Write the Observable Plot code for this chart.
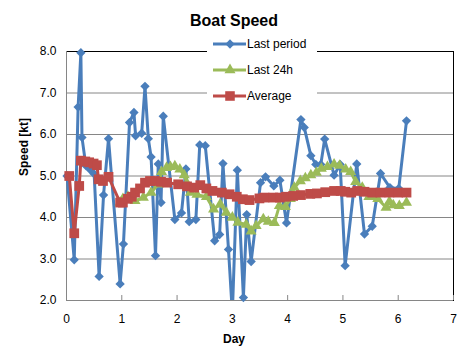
<!DOCTYPE html>
<html>
<head>
<meta charset="utf-8">
<script src="https://cdn.jsdelivr.net/npm/d3@7"></script>
<script src="https://cdn.jsdelivr.net/npm/@observablehq/plot@0.6"></script>
<style>
  html, body { margin: 0; padding: 0; background: #fff; }
  #wrap { position: relative; width: 467px; height: 356px; font-family: "Liberation Sans", Arial, sans-serif; }
  #legend { position: absolute; left: 207px; top: 33px; width: 110px; height: 73px; background: #fff; font-size: 12px; color: #000; }
  #legend .row { position: absolute; left: 0; height: 20px; }
  #legend svg { position: absolute; left: 0; top: 0; }
  #legend span { position: absolute; left: 40px; top: 3px; white-space: nowrap; }
</style>
</head>
<body>
<div id="wrap"></div>
<script>
// ---- data ----
const seriesNames = ["Last period", "Last 24h", "Average"];
const seriesColors = ["#4a7ebb", "#9bbb59", "#be4b48"];

const lastPeriodDay = [0.01,0.14,0.21,0.26,0.28,0.35,0.43,0.50,0.59,0.67,0.76,0.97,1.03,1.14,1.22,1.25,1.36,1.42,1.48,1.53,1.61,1.66,1.71,1.75,1.96,2.08,2.16,2.22,2.34,2.41,2.51,2.68,2.77,2.83,2.93,3.00,3.09,3.20,3.26,3.34,3.51,3.60,3.75,3.86,3.98,4.24,4.30,4.42,4.51,4.60,4.67,4.84,4.95,5.04,5.25,5.39,5.53,5.68,5.85,6.01,6.15];
const lastPeriodSpeed = [5.0,2.98,6.66,7.97,5.93,5.25,5.15,5.05,2.58,4.54,5.9,2.4,3.36,6.29,6.53,5.97,6.03,7.16,5.9,5.46,3.08,5.29,4.36,6.44,3.95,4.11,5.17,3.9,3.95,5.75,5.73,3.44,3.59,5.3,3.23,1.7,5.14,2.07,4.07,2.94,4.84,4.98,4.76,4.9,3.87,6.36,6.17,5.49,5.28,5.28,5.89,5.02,5.28,2.84,5.29,3.6,3.79,5.06,4.72,4.7,6.33];

const last24hDay = [0.97,1.02,1.11,1.24,1.39,1.53,1.66,1.72,1.81,1.88,1.96,2.05,2.13,2.18,2.24,2.36,2.53,2.66,2.78,2.89,3.00,3.10,3.25,3.34,3.43,3.56,3.65,3.76,3.85,3.96,4.05,4.12,4.23,4.32,4.42,4.52,4.61,4.72,4.84,4.94,5.05,5.14,5.23,5.35,5.47,5.63,5.78,5.84,5.91,6.02,6.15];
const last24hSpeed = [4.36,4.45,4.5,4.4,4.48,4.6,4.8,5.1,5.2,5.22,5.24,5.16,5.02,4.82,4.6,4.55,4.5,4.2,4.32,4.12,4.0,3.88,3.83,3.67,3.8,3.96,3.9,3.87,4.28,4.26,4.45,4.72,4.88,4.95,5.02,5.08,5.18,5.22,5.28,5.25,5.16,5.1,4.86,4.72,4.5,4.45,4.24,4.38,4.3,4.28,4.36];

const averageDay = [0.05,0.14,0.23,0.26,0.34,0.41,0.49,0.55,0.58,0.66,0.76,0.97,1.02,1.11,1.18,1.24,1.33,1.42,1.51,1.60,1.71,1.82,2.02,2.18,2.31,2.42,2.53,2.64,2.81,2.95,3.08,3.19,3.31,3.49,3.58,3.74,3.86,3.97,4.10,4.24,4.41,4.53,4.68,4.84,4.96,5.04,5.15,5.26,5.39,5.53,5.68,5.84,6.00,6.15];
const averageSpeed = [5.0,3.62,4.76,5.37,5.35,5.33,5.3,5.26,4.92,4.88,4.98,4.36,4.36,4.45,4.5,4.6,4.7,4.84,4.88,4.88,4.86,4.84,4.8,4.75,4.72,4.78,4.7,4.64,4.6,4.56,4.5,4.44,4.42,4.46,4.48,4.48,4.48,4.5,4.52,4.54,4.57,4.58,4.61,4.64,4.64,4.62,4.6,4.64,4.62,4.6,4.6,4.6,4.6,4.6];

const xTicks = [0,1,2,3,4,5,6,7];
const yTicks = [2,3,4,5,6,7,8];
const gridY = [3,4,5,6,7];
const titleText = "Boat Speed";
const xTitle = "Day";
const yTitle = "Speed [kt]";

// ---- build tables ----
const lp = lastPeriodDay.map((d, i) => ({day: d, speed: lastPeriodSpeed[i]}));
const h24 = last24hDay.map((d, i) => ({day: d, speed: last24hSpeed[i]}));
const avg = averageDay.map((d, i) => ({day: d, speed: averageSpeed[i]}));

const font = "Liberation Sans, Arial, sans-serif";
const gray = "#868686";

const chart = Plot.plot({
  width: 467,
  height: 356,
  marginTop: 51,
  marginBottom: 56,
  marginLeft: 66,
  marginRight: 14,
  style: {fontFamily: font, fontSize: "12px", color: "#000", background: "#fff", overflow: "visible"},
  x: {domain: [0, 7]},
  y: {domain: [2, 8]},
  marks: [
    Plot.ruleY(gridY, {stroke: gray, strokeWidth: 1}),
    Plot.frame({stroke: "#000", strokeWidth: 1}),
    Plot.ruleX([0], {stroke: gray, strokeWidth: 1}),
    Plot.ruleY([2], {stroke: gray, strokeWidth: 1}),
    Plot.ruleX(xTicks, {x: d => d, y1: 2, y2: 2.12, stroke: gray}),
    Plot.axisY(yTicks, {tickSize: 0, tickPadding: 10, tickFormat: d3.format(".1f"), fontSize: 12, label: null}),
    Plot.axisX(xTicks, {tickSize: 0, tickPadding: 14, fontSize: 12, label: null}),
    // series
    Plot.line(lp, {x: "day", y: "speed", stroke: seriesColors[0], strokeWidth: 3, clip: true}),
    Plot.dot(lp, {x: "day", y: "speed", filter: d => d.speed >= 2, symbol: "diamond2", r: 4.2, fill: seriesColors[0], stroke: "none"}),
    Plot.line(h24, {x: "day", y: "speed", stroke: seriesColors[1], strokeWidth: 3}),
    Plot.dot(h24, {x: "day", y: "speed", symbol: "triangle", r: 4.1, fill: seriesColors[1], stroke: "none"}),
    Plot.line(avg, {x: "day", y: "speed", stroke: seriesColors[2], strokeWidth: 3}),
    Plot.dot(avg, {x: "day", y: "speed", symbol: "square", r: 5.5, fill: seriesColors[2], stroke: "none"}),
    // titles
    Plot.text([titleText], {frameAnchor: "top", dx: -26, dy: -37, fontSize: 16, fontWeight: "bold", fill: "#000"}),
    Plot.text([xTitle], {frameAnchor: "bottom", dx: -26, dy: 42, fontSize: 12, fontWeight: "bold", fill: "#000"}),
    Plot.text([yTitle], {frameAnchor: "left", dx: -42, rotate: -90, fontSize: 12, fontWeight: "bold", fill: "#000"})
  ]
});

const wrap = document.getElementById("wrap");
wrap.appendChild(chart);

// ---- legend overlay ----
const legend = document.createElement("div");
legend.id = "legend";
const symbols = ["diamond2", "triangle", "square"];
const symSize = [4.2, 4.1, 5.4];
const rowsTop = [1, 27, 53];
seriesNames.forEach((name, i) => {
  const row = document.createElement("div");
  row.className = "row";
  row.style.top = rowsTop[i] + "px";
  row.style.width = "110px";
  const svg = d3.create("svg").attr("width", 40).attr("height", 20);
  svg.append("line").attr("x1", 6).attr("x2", 39).attr("y1", 10).attr("y2", 10)
    .attr("stroke", seriesColors[i]).attr("stroke-width", 3);
  const symMap = {diamond2: d3.symbolDiamond2, triangle: d3.symbolTriangle, square: d3.symbolSquare};
  svg.append("path").attr("transform", "translate(23,10)")
    .attr("d", d3.symbol(symMap[symbols[i]], Math.PI * symSize[i] * symSize[i])())
    .attr("fill", seriesColors[i]);
  row.appendChild(svg.node());
  const span = document.createElement("span");
  span.textContent = name;
  row.appendChild(span);
  legend.appendChild(row);
});
wrap.appendChild(legend);
</script>
</body>
</html>
